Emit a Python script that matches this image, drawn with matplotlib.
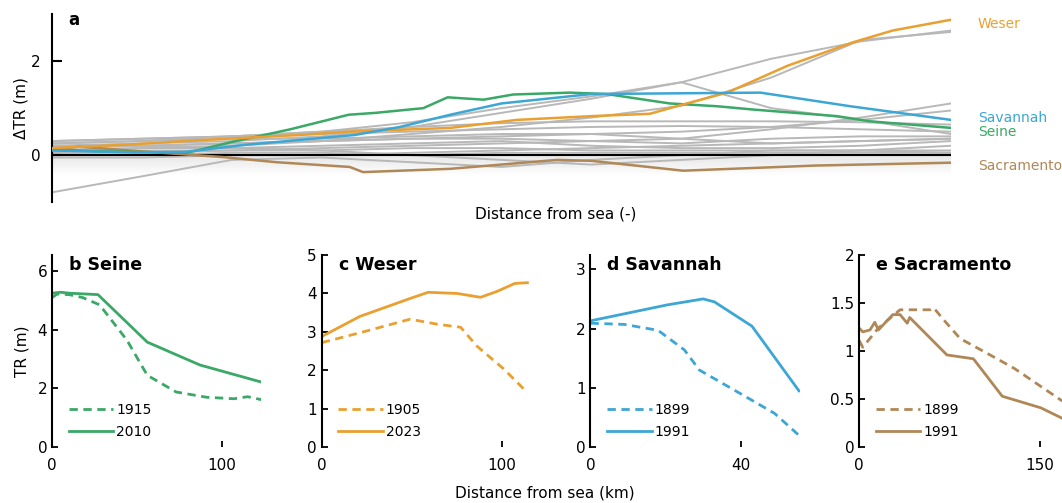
import matplotlib.pyplot as plt

plt.rcParams['font.family'] = ['DejaVu Sans']

# ---- panel a: change in tidal range along normalised distance ----
grid = [0.0, 0.1, 0.2, 0.3, 0.4, 0.5, 0.6, 0.7, 0.8, 0.9, 1.0]
grey_runs = [
    [0.25, 0.30, 0.40, 0.50, 0.70, 1.00, 1.25, 1.55, 2.05, 2.42, 2.65],
    [0.10, 0.15, 0.20, 0.30, 0.45, 0.60, 0.80, 1.05, 1.65, 2.45, 2.62],
    [0.20, 0.25, 0.30, 0.40, 0.60, 0.90, 1.20, 1.55, 1.00, 0.75, 0.45],
    [0.05, 0.10, 0.10, 0.15, 0.20, 0.25, 0.30, 0.35, 0.55, 0.80, 1.10],
    [0.15, 0.20, 0.25, 0.30, 0.35, 0.40, 0.45, 0.50, 0.60, 0.75, 0.95],
    [0.30, 0.35, 0.40, 0.50, 0.60, 0.68, 0.72, 0.72, 0.72, 0.70, 0.65],
    [0.30, 0.35, 0.40, 0.45, 0.50, 0.55, 0.60, 0.62, 0.60, 0.55, 0.50],
    [0.20, 0.20, 0.25, 0.30, 0.35, 0.35, 0.30, 0.25, 0.35, 0.40, 0.40],
    [0.10, 0.15, 0.15, 0.20, 0.25, 0.30, 0.20, 0.15, 0.15, 0.20, 0.30],
    [0.05, 0.05, 0.10, 0.10, 0.15, 0.15, 0.10, 0.10, 0.10, 0.10, 0.10],
    [0.00, 0.00, 0.05, 0.05, 0.00, 0.05, 0.05, 0.05, 0.05, 0.05, 0.05],
    [-0.79, -0.45, -0.10, -0.05, -0.15, -0.25, -0.10, 0.00, 0.10, 0.10, 0.05],
    [0.20, 0.20, 0.15, 0.10, 0.00, -0.10, -0.20, -0.10, 0.00, 0.10, 0.20],
    [0.25, 0.30, 0.35, 0.35, 0.40, 0.45, 0.45, 0.35, 0.25, 0.30, 0.35],
    [-0.05, -0.05, 0.00, 0.00, 0.05, 0.10, 0.15, 0.20, 0.25, 0.30, 0.35],
]

weser_x = [0, 0.08, 0.165, 0.276, 0.33, 0.443, 0.517, 0.6, 0.665, 0.706, 0.751, 0.818, 0.891, 0.935, 1.0]
weser_y = [0.15, 0.22, 0.32, 0.43, 0.50, 0.58, 0.75, 0.83, 0.88, 1.10, 1.33, 1.90, 2.40, 2.65, 2.88]
seine_x = [0, 0.06, 0.15, 0.2, 0.265, 0.33, 0.36, 0.413, 0.44, 0.48, 0.513, 0.576, 0.617, 0.687, 0.74, 0.78, 0.873, 0.91, 1.0]
seine_y = [0.12, 0.08, 0.05, 0.28, 0.55, 0.86, 0.90, 1.00, 1.23, 1.18, 1.29, 1.33, 1.30, 1.10, 1.04, 0.97, 0.83, 0.72, 0.58]
savannah_x = [0, 0.09, 0.148, 0.215, 0.337, 0.387, 0.443, 0.5, 0.6, 0.788, 0.888, 1.0]
savannah_y = [0.10, 0.06, 0.07, 0.22, 0.43, 0.60, 0.86, 1.10, 1.30, 1.33, 1.04, 0.75]
sacramento_x = [0, 0.03, 0.1, 0.16, 0.19, 0.25, 0.331, 0.346, 0.443, 0.562, 0.6, 0.702, 0.85, 1.0]
sacramento_y = [0.12, 0.18, 0.08, 0.00, -0.04, -0.15, -0.25, -0.36, -0.29, -0.10, -0.12, -0.33, -0.22, -0.16]

# ---- panels b-e: tidal range along the estuary (km) ----
seine_km_old = [0, 3, 10, 18, 28, 44, 56, 73, 91, 107, 115, 123]
seine_tr_old = [5.10, 5.22, 5.20, 5.10, 4.85, 3.65, 2.45, 1.88, 1.70, 1.65, 1.72, 1.62]
seine_km_new = [0, 5, 10, 27, 56, 87, 123]
seine_tr_new = [5.25, 5.28, 5.25, 5.20, 3.58, 2.80, 2.22]

weser_km_old = [0, 23, 49, 64, 77, 86, 101, 114]
weser_tr_old = [2.72, 3.00, 3.33, 3.20, 3.12, 2.63, 2.03, 1.42]
weser_km_new = [0, 21, 49, 59, 75, 88, 97, 107, 114]
weser_tr_new = [2.88, 3.40, 3.87, 4.03, 4.00, 3.90, 4.05, 4.26, 4.28]

savannah_km_old = [0, 9, 18, 25, 29, 40, 49, 55.5]
savannah_tr_old = [2.09, 2.07, 1.97, 1.64, 1.30, 0.90, 0.57, 0.20]
savannah_km_new = [0, 20.5, 30, 33, 43, 55.5]
savannah_tr_new = [2.13, 2.40, 2.50, 2.45, 2.04, 0.95]

sacramento_km_old = [0, 3, 16, 34, 59, 62, 70, 84, 106, 129, 169]
sacramento_tr_old = [1.11, 1.04, 1.24, 1.43, 1.43, 1.45, 1.33, 1.13, 0.98, 0.82, 0.48]
sacramento_km_new = [0, 3, 9, 13, 16, 28, 34, 40, 42, 73, 95, 119, 151, 169]
sacramento_tr_new = [1.24, 1.20, 1.22, 1.30, 1.22, 1.38, 1.38, 1.29, 1.35, 0.96, 0.92, 0.53, 0.41, 0.30]

c_weser = '#E9A030'
c_seine = '#3AA866'
c_savannah = '#3CA6D4'
c_sacramento = '#B08756'
c_grey = '#B8B8B8'

fig = plt.figure(figsize=(10.62, 5.03), dpi=100)

# panel a
ax = fig.add_axes([0.049, 0.598, 0.8465, 0.374])
for i in range(12):
    ax.axhspan(-0.035 * (i + 1), 0, color='0.55', alpha=0.012, lw=0, zorder=0)
for run in grey_runs:
    ax.plot(grid, run, color=c_grey, lw=1.4, zorder=1)
ax.axhline(0, color='black', lw=1.5, zorder=2)
ax.plot(sacramento_x, sacramento_y, color=c_sacramento, lw=1.8, zorder=3)
ax.plot(seine_x, seine_y, color=c_seine, lw=1.8, zorder=3)
ax.plot(weser_x, weser_y, color=c_weser, lw=1.8, zorder=3)
ax.plot(savannah_x, savannah_y, color=c_savannah, lw=1.8, zorder=3)
ax.set_xlim(0, 1)
ax.set_ylim(-1, 3)
ax.set_xticks([])
ax.set_yticks([0, 2])
ax.tick_params(axis='y', direction='in', length=7, width=1.5, labelsize=11, pad=8)
for s in ['top', 'right', 'bottom']:
    ax.spines[s].set_visible(False)
ax.spines['left'].set_linewidth(1.5)
ax.set_ylabel('ΔTR (m)', fontsize=11, labelpad=2)
ax.text(0.018, 0.97, 'a', transform=ax.transAxes, fontsize=12, fontweight='bold', va='center')
# river names at the right-hand end of each coloured line
names = [('Weser', 2.78, c_weser), ('Savannah', 0.80, c_savannah),
         ('Seine', 0.50, c_seine), ('Sacramento', -0.22, c_sacramento)]
for name, yv, col in names:
    ax.text(1.03, yv, name, color=col, fontsize=10, va='center', clip_on=False)
fig.text(0.523, 0.575, 'Distance from sea (-)', fontsize=11, ha='center', va='center')

# panels b-e
panels = [
    ('b Seine', c_seine, seine_km_old, seine_tr_old, seine_km_new, seine_tr_new,
     '1915', '2010', 123, 6.55, [0, 2, 4, 6], ['0', '2', '4', '6'], [0, 100]),
    ('c Weser', c_weser, weser_km_old, weser_tr_old, weser_km_new, weser_tr_new,
     '1905', '2023', 116, 5.0, [0, 1, 2, 3, 4, 5], ['0', '1', '2', '3', '4', '5'], [0, 100]),
    ('d Savannah', c_savannah, savannah_km_old, savannah_tr_old, savannah_km_new, savannah_tr_new,
     '1899', '1991', 55.7, 3.24, [0, 1, 2, 3], ['0', '1', '2', '3'], [0, 40]),
    ('e Sacramento', c_sacramento, sacramento_km_old, sacramento_tr_old, sacramento_km_new, sacramento_tr_new,
     '1899', '1991', 174, 2.0, [0, 0.5, 1, 1.5, 2], ['0', '0.5', '1', '1.5', '2'], [0, 150]),
]
lefts = [0.049, 0.303, 0.556, 0.809]
for left, p in zip(lefts, panels):
    title, col, xo, yo, xn, yn, lo, ln, xmax, ymax, yt, ytl, xt = p
    bx = fig.add_axes([left, 0.111, 0.197, 0.382])
    bx.plot(xo, yo, color=col, lw=2, linestyle=(0, (3, 2)), label=lo)
    bx.plot(xn, yn, color=col, lw=2, label=ln)
    bx.set_xlim(0, xmax)
    bx.set_ylim(0, ymax)
    bx.set_yticks(yt)
    bx.set_yticklabels(ytl)
    bx.set_xticks(xt)
    bx.tick_params(direction='in', length=4, width=1.3, labelsize=11)
    bx.tick_params(axis='x', pad=8)
    for s in ['top', 'right', 'bottom']:
        bx.spines[s].set_visible(False)
    bx.spines['left'].set_linewidth(1.5)
    bx.text(0.08, 0.948, title, transform=bx.transAxes, fontsize=12.5,
            fontweight='bold', va='center')
    bx.legend(loc='lower left', bbox_to_anchor=(0.04, 0.0), frameon=False, fontsize=10,
              handlelength=3.2, handletextpad=0.2, labelspacing=0.55, borderaxespad=0.2)
    if left == lefts[0]:
        bx.set_ylabel('TR (m)', fontsize=11, labelpad=6)

fig.text(0.513, 0.02, 'Distance from sea (km)', fontsize=11, ha='center', va='center')

fig.savefig('out.png', dpi=100)
